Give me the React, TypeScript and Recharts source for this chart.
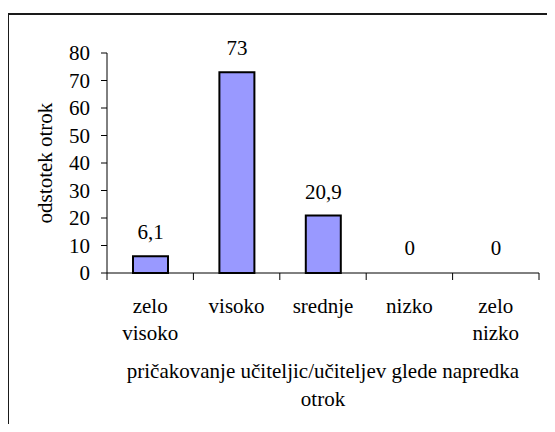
import React from "react";
import { BarChart, Bar, XAxis, YAxis, LabelList, Cell } from "recharts";

// pričakovanje učiteljic/učiteljev glede napredka otrok
const categories = ["zelo visoko", "visoko", "srednje", "nizko", "zelo nizko"];
const percent = [6.1, 73, 20.9, 0, 0];
const yTicks = [0, 10, 20, 30, 40, 50, 60, 70, 80];

const data = categories.map((name, i) => ({ name, value: percent[i] }));

const FONT = "Liberation Serif";
const FS = 21;

const CategoryTick = (props: any) => {
  const { x, y, payload, index, visibleTicksCount } = props;
  const half = payload?.offset ?? 0;
  const words = String(payload.value).split(" ");
  const isLast = index === visibleTicksCount - 1;
  return (
    <g>
      <line x1={x - half} x2={x - half} y1={y - 7} y2={y} stroke="#000" strokeWidth={1} />
      {isLast && <line x1={x + half} x2={x + half} y1={y - 7} y2={y} stroke="#000" strokeWidth={1} />}
      <text x={x} y={y + 33} textAnchor="middle" fontFamily={FONT} fontSize={FS} fill="#000">
        {words.map((w, i) => (
          <tspan key={i} x={x} dy={i === 0 ? 0 : 27}>
            {w}
          </tspan>
        ))}
      </text>
    </g>
  );
};

const XTitle = (props: any) => {
  const vb = props.viewBox || {};
  const cx = vb.x + vb.width / 2;
  return (
    <text x={cx} y={vb.y + 105} textAnchor="middle" fontFamily={FONT} fontSize={FS} fill="#000">
      <tspan x={cx}>pričakovanje učiteljic/učiteljev glede napredka</tspan>
      <tspan x={cx} dy={28}>otrok</tspan>
    </text>
  );
};

const YTitle = (props: any) => {
  const vb = props.viewBox || {};
  const cx = vb.x + 52;
  const cy = vb.y + vb.height / 2;
  return (
    <text
      x={cx}
      y={cy}
      textAnchor="middle"
      transform={`rotate(-90, ${cx}, ${cy})`}
      fontFamily={FONT}
      fontSize={FS}
      fill="#000"
    >
      odstotek otrok
    </text>
  );
};

export default function App() {
  return (
    <div style={{ position: "relative", margin: -8, width: 555, height: 432, background: "#fff" }}>
      <div
        style={{
          position: "absolute",
          left: 7,
          top: 13,
          right: -20,
          bottom: -20,
          borderTop: "2px solid #1a1a1a",
          borderLeft: "2px solid #1a1a1a",
        }}
      />
      <div style={{ position: "absolute", left: 0, top: 0 }}>
        <BarChart
          width={555}
          height={432}
          data={data}
          margin={{ top: 53, right: 16, bottom: 0, left: 0 }}
          barSize={35}
        >
          <XAxis
            dataKey="name"
            height={159}
            interval={0}
            tickLine={false}
            tickSize={7}
            tickMargin={0}
            axisLine={{ stroke: "#000", strokeWidth: 1 }}
            tick={<CategoryTick />}
            label={{ content: <XTitle /> }}
          />
          <YAxis
            width={107}
            domain={[0, 80]}
            ticks={yTicks}
            interval={0}
            tickSize={6}
            tickMargin={11}
            axisLine={{ stroke: "#000", strokeWidth: 1 }}
            tickLine={{ stroke: "#000", strokeWidth: 1 }}
            tick={{ fill: "#000", fontSize: FS, fontFamily: FONT }}
            label={{ content: <YTitle /> }}
          />
          <Bar
            dataKey="value"
            fill="#9999ff"
            stroke="#000"
            strokeWidth={2}
            minPointSize={(v: any) => (v === 0 ? 1 : 0)}
            isAnimationActive={false}
          >
            {data.map((d, i) => (
              <Cell
                key={i}
                fill={d.value === 0 ? "none" : "#9999ff"}
                stroke={d.value === 0 ? "none" : "#000"}
              />
            ))}
            <LabelList
              dataKey="value"
              position="top"
              offset={17}
              formatter={(v: any) => String(v).replace(".", ",")}
              fill="#000"
              fontSize={FS}
              fontFamily={FONT}
            />
          </Bar>
        </BarChart>
      </div>
    </div>
  );
}
